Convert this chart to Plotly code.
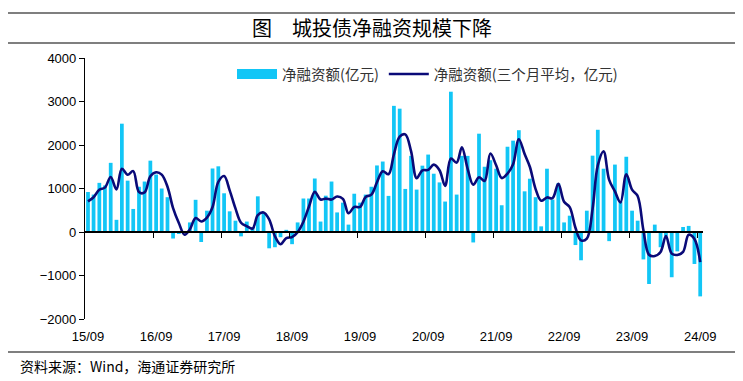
import pandas as pd
import plotly.graph_objects as go

# ---- data ----
months = pd.date_range("2015-09-01", "2024-09-01", freq="MS")

net_financing = [
    920, 860, 1130, 1070, 1590, 280, 2490, 1180, 530, 1040,
    1160, 1640, 1320, 1000, 800, -150, -30, -10, 220, 740,
    -230, 490, 1460, 1510, 890, 475, 260, -100, 240, 100,
    820, 430, -375, -350, -120, 50, -280, 220, 770, 770,
    1230, 240, 835, 1160, 450, 675, 170, 880, 675, 860,
    1040, 1530, 1620, 830, 2900, 2835, 990, 1750, 975, 1525,
    1780, 1340, 1140, 700, 3225, 860, 1750, 1750, -240, 2260,
    1500, 1650, 1455, 615, 1960, 2100, 2340, 935, 1225, 800,
    130, 1455, 745, 1120, 220, 375, -300, -650, 490, 1755,
    2350, 1455, -210, 1550, 700, 1730, 490, 260, -630, -1195,
    170, -350, -100, -1040, -445, 115, 140, -735, -1480,
]

net_financing_3m_avg = [
    705, 800, 970, 1020, 1263, 980, 1453, 1317, 1400, 917,
    910, 1280, 1373, 1320, 1040, 550, 207, -63, 60, 320,
    243, 333, 573, 1153, 1287, 958, 542, 212, 133, 80,
    387, 450, 292, -98, -282, -140, -117, -3, 237, 587,
    923, 747, 768, 745, 815, 762, 432, 575, 575, 805,
    858, 1143, 1397, 1327, 1787, 2192, 2245, 1858, 1238, 1417,
    1427, 1548, 1420, 1060, 1688, 1595, 1945, 1453, 1087, 1257,
    1173, 1803, 1535, 1240, 1343, 1558, 2133, 1792, 1500, 987,
    718, 795, 777, 1107, 695, 572, 98, -192, -153, 532,
    1532, 1853, 1198, 932, 680, 1327, 973, 827, 40, -522,
    -552, -458, -93, -497, -528, -457, -63, -160, -692,
]

tick_labels = ["15/09", "16/09", "17/09", "18/09", "19/09",
               "20/09", "21/09", "22/09", "23/09", "24/09"]
tick_dates = pd.date_range("2015-09-01", "2024-09-01", freq="12MS")
boundary_dates = [d - pd.Timedelta(days=15) for d in tick_dates[1:]]

y_ticks = [-2000, -1000, 0, 1000, 2000, 3000, 4000]

bar_name = "净融资额(亿元)"
line_name = "净融资额(三个月平均，亿元)"
title_text = "图\u3000城投债净融资规模下降"
source_text = "资料来源：Wind，海通证券研究所"

BAR_COLOR = "#12C6F6"
LINE_COLOR = "#0A0A78"
FONT = "Liberation Sans, Arial, Noto Sans CJK SC, sans-serif"
CJK_FONT = "Noto Sans CJK SC, sans-serif"

x_range = [pd.Timestamp("2015-08-16"), pd.Timestamp("2024-09-16")]

# plot area in page pixels: x 85..703, y 58..319 (page has an 8px body margin)
PX0, PX1, PY0, PY1 = 85, 703, 58, 319


def px(xp):
    return (xp - PX0) / (PX1 - PX0)


def py(yp):
    return (PY1 - yp) / (PY1 - PY0)


fig = go.Figure()

fig.add_trace(go.Bar(
    x=months, y=net_financing, name=bar_name,
    marker=dict(color=BAR_COLOR, line=dict(width=0)),
    showlegend=False,
))
# legend entry for bars (wide swatch)
fig.add_trace(go.Scatter(
    x=[None], y=[None], mode="lines", name=bar_name,
    line=dict(color=BAR_COLOR, width=10),
))
fig.add_trace(go.Scatter(
    x=months, y=net_financing_3m_avg, mode="lines", name=line_name,
    line=dict(color=LINE_COLOR, width=2.6, shape="spline", smoothing=1),
))
# zero axis carrier
fig.add_trace(go.Scatter(
    x=[months[0]], y=[None], xaxis="x2", mode="lines",
    showlegend=False, hoverinfo="skip",
))

fig.update_layout(
    width=735, height=373,
    margin=dict(l=77, r=40, t=50, b=62),
    paper_bgcolor="white", plot_bgcolor="white",
    bargap=0.28,
    font=dict(family=FONT, size=13, color="#000000"),
    xaxis=dict(
        type="date", range=x_range,
        tickvals=list(tick_dates), ticktext=tick_labels,
        showline=False, showgrid=False, zeroline=False,
        ticks="", ticklabelstandoff=8,
        tickfont=dict(family=FONT, size=13, color="#000000"),
    ),
    xaxis2=dict(
        type="date", range=x_range, matches="x", overlaying="x",
        anchor="free", position=1 / 3, side="bottom",
        showline=True, linecolor="#000000", linewidth=1.5,
        ticks="outside", ticklen=5, tickwidth=1, tickcolor="#000000",
        tickvals=boundary_dates, showticklabels=False,
        showgrid=False, zeroline=False,
    ),
    yaxis=dict(
        range=[-2000, 4000], tickvals=y_ticks,
        showline=True, linecolor="#000000", linewidth=1.2,
        ticks="outside", ticklen=5, tickcolor="#000000",
        showgrid=False, zeroline=False,
        tickfont=dict(family=FONT, size=13, color="#000000"),
    ),
    legend=dict(
        orientation="h", x=px(232), y=1.0, xanchor="left", yanchor="top",
        bgcolor="rgba(0,0,0,0)", itemwidth=40,
        font=dict(family=CJK_FONT, size=14.5, color="#333333"),
        traceorder="normal",
    ),
    annotations=[
        dict(text=title_text, xref="paper", yref="paper",
             x=px(372), y=py(28),
             xanchor="center", yanchor="middle", showarrow=False,
             font=dict(family=CJK_FONT, size=20, color="#000000")),
        dict(text=source_text, xref="paper", yref="paper",
             x=px(18), y=py(366),
             xanchor="left", yanchor="middle", showarrow=False,
             font=dict(family=CJK_FONT, size=14, color="#000000")),
    ],
    shapes=[
        dict(type="line", xref="paper", yref="paper",
             x0=px(5), x1=px(738), y0=py(13), y1=py(13),
             line=dict(color="#000000", width=1.2)),
        dict(type="line", xref="paper", yref="paper",
             x0=px(5), x1=px(738), y0=py(43), y1=py(43),
             line=dict(color="#000000", width=1.2)),
        dict(type="line", xref="paper", yref="paper",
             x0=px(5), x1=px(738), y0=py(352), y1=py(352),
             line=dict(color="#000000", width=1.2)),
    ],
)

fig.write_html("out.html")
